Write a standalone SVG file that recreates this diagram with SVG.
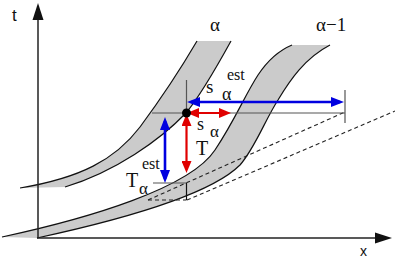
<svg xmlns="http://www.w3.org/2000/svg" width="395" height="258" viewBox="0 0 395 258">
<style>
.band{fill:#cbcbcb;stroke:none}
.edge{fill:none;stroke:#111;stroke-width:1.2}
.axis{fill:none;stroke:#222;stroke-width:1.5}
.thin{fill:none;stroke:#555;stroke-width:1.2}
.dash{fill:none;stroke:#222;stroke-width:1.1;stroke-dasharray:4 3}
.blue{fill:none;stroke:#0000e0;stroke-width:2.6;marker-start:url(#hb);marker-end:url(#hb)}
.red{fill:none;stroke:#e00000;stroke-width:2.2;marker-start:url(#hr);marker-end:url(#hr)}
.serif{font-family:"Liberation Serif","Times New Roman",serif;fill:#111}
.sans{font-family:"Liberation Sans",Arial,sans-serif;fill:#111}
</style>
<defs>
<marker id="hb" viewBox="-9 -5 13 10" refX="0" refY="0" markerWidth="13" markerHeight="10" markerUnits="userSpaceOnUse" orient="auto-start-reverse"><path d="M4,0 L-9,-5 L-9,5 Z" fill="#0000e0"/></marker>
<marker id="hr" viewBox="-8 -5 12 10" refX="0" refY="0" markerWidth="12" markerHeight="10" markerUnits="userSpaceOnUse" orient="auto-start-reverse"><path d="M4,0 L-8,-5 L-8,5 Z" fill="#e00000"/></marker>
<marker id="ha" viewBox="-1 -6 19 12" refX="0" refY="0" markerWidth="19" markerHeight="12" markerUnits="userSpaceOnUse" orient="auto"><path d="M17,0 L0,-5.5 L0,5.5 Z" fill="#111"/></marker>
</defs>
<g id="band-alpha">
<path class="band" d="M20,188 C80,178 115,160 140,127 C160,100 180,70 197,41 L231,41 C215,70 200,96 186,113 C160,140 115,172 65,187 Z"/>
<path class="edge" d="M20,188 C80,178 115,160 140,127 C160,100 180,70 197,41"/>
<path class="edge" d="M65,187 C115,172 160,140 186,113 C200,96 215,70 231,41"/>
</g>
<g id="band-alpha-1">
<path class="band" d="M2,237 C90,218 190,188 215,150 C235,120 245,95 258,75 C268,60 280,50 292,45 L330,45 C305,58 290,80 278,100 C265,120 255,148 240,165 C210,195 120,220 37,238 Z"/>
<path class="edge" d="M2,237 C90,218 190,188 215,150 C235,120 245,95 258,75 C268,60 280,50 292,45"/>
<path class="edge" d="M37,238 C120,220 210,195 240,165 C255,148 265,120 278,100 C290,80 305,58 330,45"/>
</g>
<g id="axes">
<path class="axis" d="M38,238 V20" marker-end="url(#ha)"/>
<path class="axis" d="M37,238 H375" marker-end="url(#ha)"/>
<text class="sans" x="12" y="21" font-size="17">t</text>
<text class="sans" x="360" y="256" font-size="14">x</text>
</g>
<g id="connectors">
<path class="dash" d="M148,200 L345,112"/>
<path class="dash" d="M187,200 L395,111"/>
<path class="dash" d="M148,200 H186.5"/>
<path class="thin" d="M186.5,80 V113 M152,113 H345 M345,90 V123 M153,183 H186.5"/>
<path class="edge" d="M186.5,183 V200"/>
<path class="blue" d="M191,102 H340"/>
<path class="blue" d="M165,121 V179"/>
<path class="red" d="M191,113 H227"/>
<path class="red" d="M186.5,118 V169"/>
</g>
<g id="point">
<circle cx="186.5" cy="113" r="4.5" fill="#000"/>
</g>
<g id="labels">
<text class="serif" x="210" y="31" font-size="19">α</text>
<text class="serif" x="316" y="31" font-size="19">α−1</text>
<text class="serif" x="206" y="93" font-size="19">s</text>
<text class="serif" x="227" y="80" font-size="16">est</text>
<text class="serif" x="222" y="100" font-size="18">α</text>
<text class="serif" x="197" y="130" font-size="18">s</text>
<text class="serif" x="210" y="137" font-size="17">α</text>
<text class="serif" x="196" y="155" font-size="20">T</text>
<text class="serif" x="126" y="187" font-size="20">T</text>
<text class="serif" x="142" y="169" font-size="16">est</text>
<text class="serif" x="139" y="194" font-size="17">α</text>
</g>
</svg>
